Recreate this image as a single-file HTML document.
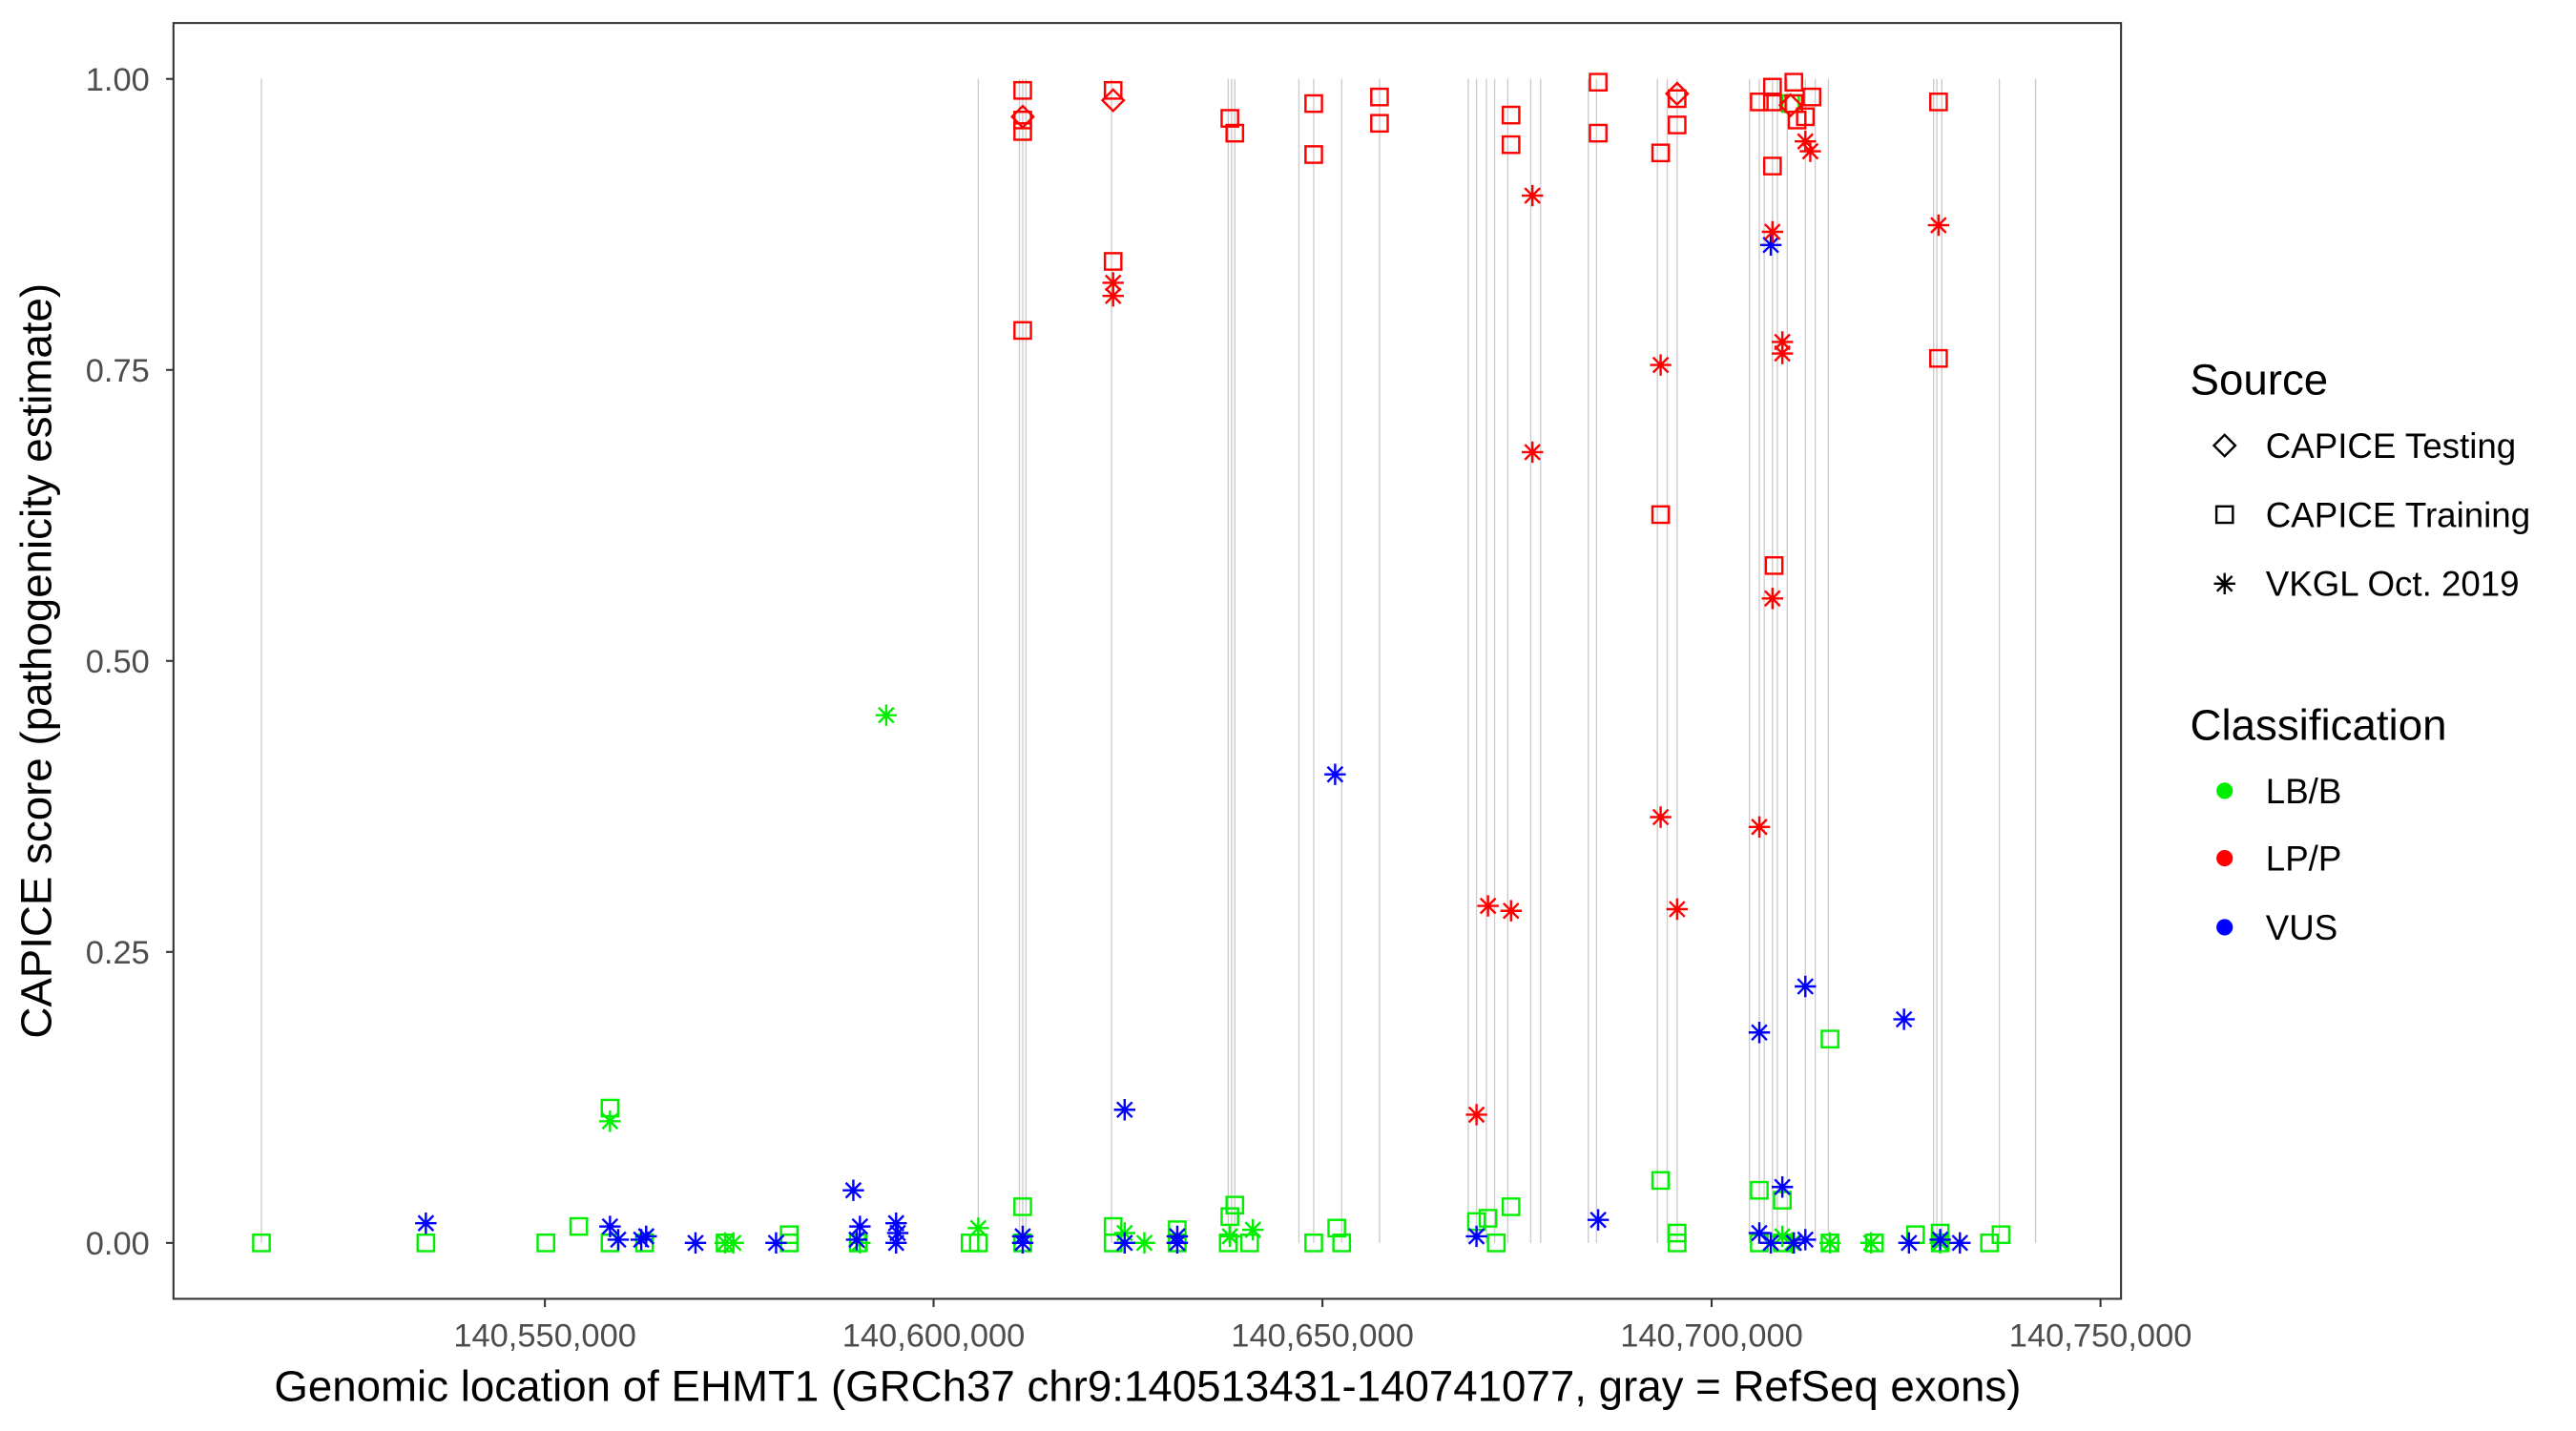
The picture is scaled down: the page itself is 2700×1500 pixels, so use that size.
<!DOCTYPE html>
<html><head><meta charset="utf-8"><style>
html,body{margin:0;padding:0;background:#fff}
svg{display:block}
text{font-family:"Liberation Sans",Arial,sans-serif}
</style></head><body>
<svg id="s" width="2700" height="1500" viewBox="0 0 1566.7 870.4" preserveAspectRatio="none" xmlns="http://www.w3.org/2000/svg">
<rect x="0" y="0" width="1600" height="900" fill="#fff"/>
<g id="ex" stroke="#cccccc" stroke-width="0.8"></g>
<g id="pts" fill="none" stroke-width="1.4"></g>
<rect x="105.5" y="14" width="1184.5" height="776" fill="none" stroke="#333" stroke-width="1.2"/>
<g stroke="#333" stroke-width="1.2">
<line x1="101" y1="48" x2="105.5" y2="48"/><line x1="101" y1="225" x2="105.5" y2="225"/><line x1="101" y1="402" x2="105.5" y2="402"/><line x1="101" y1="579" x2="105.5" y2="579"/><line x1="101" y1="756" x2="105.5" y2="756"/>
<line x1="331.4" y1="790" x2="331.4" y2="795"/><line x1="567.8" y1="790" x2="567.8" y2="795"/><line x1="804.3" y1="790" x2="804.3" y2="795"/><line x1="1041" y1="790" x2="1041" y2="795"/><line x1="1277.5" y1="790" x2="1277.5" y2="795"/>
</g>
<g font-size="20" fill="#4d4d4d" text-anchor="end">
<text x="91" y="55">1.00</text><text x="91" y="232">0.75</text><text x="91" y="409">0.50</text><text x="91" y="586">0.25</text><text x="91" y="763">0.00</text>
</g>
<g font-size="20" fill="#4d4d4d" text-anchor="middle">
<text x="331.4" y="819">140,550,000</text><text x="567.8" y="819">140,600,000</text><text x="804.3" y="819">140,650,000</text><text x="1041" y="819">140,700,000</text><text x="1277.5" y="819">140,750,000</text>
</g>
<text x="698" y="852" font-size="26.5" text-anchor="middle" fill="#000">Genomic location of EHMT1 (GRCh37 chr9:140513431-140741077, gray = RefSeq exons)</text>
<text transform="translate(31,402) rotate(-90)" font-size="26.5" text-anchor="middle" fill="#000">CAPICE score (pathogenicity estimate)</text>
<text x="1332" y="240" font-size="26.5" fill="#000">Source</text>
<text x="1378" y="278.5" font-size="21.3" fill="#000">CAPICE Testing</text>
<text x="1378" y="320.5" font-size="21.3" fill="#000">CAPICE Training</text>
<text x="1378" y="362.5" font-size="21.3" fill="#000">VKGL Oct. 2019</text>
<text x="1332" y="450" font-size="26.5" fill="#000">Classification</text>
<text x="1378" y="488.5" font-size="21.3" fill="#000">LB/B</text>
<text x="1378" y="529.5" font-size="21.3" fill="#000">LP/P</text>
<text x="1378" y="571.5" font-size="21.3" fill="#000">VUS</text>
<g id="leg" fill="none" stroke-width="1.4"></g>
</svg>
<script>
var ns="http://www.w3.org/2000/svg";
function el(p,t,a){var e=document.createElementNS(ns,t);for(var k in a)e.setAttribute(k,a[k]);p.appendChild(e);return e;}
var ex=document.getElementById('ex');
[159,595,620,622,624,676,747,749,751,790,799,816,839,893,898,904,909,917,931,937,966,971,1008,1014,1020,1064,1070,1073,1078,1081,1087,1098,1104,1112,1176,1178,1181,1216,1238].forEach(function(x){el(ex,'line',{x1:x,y1:48,x2:x,y2:756});});
var P=document.getElementById('pts');
function sq(g,x,y,c){el(g,'rect',{x:x-5,y:y-5,width:10,height:10,stroke:c});}
function di(g,x,y,c){el(g,'path',{d:'M'+x+' '+(y-6.5)+'L'+(x+6.5)+' '+y+'L'+x+' '+(y+6.5)+'L'+(x-6.5)+' '+y+'Z',stroke:c});}
function as(g,x,y,c){var r=6.5,d=4.6;el(g,'path',{d:'M'+x+' '+(y-r)+'V'+(y+r)+'M'+(x-d)+' '+(y-d)+'L'+(x+d)+' '+(y+d)+'M'+(x-d)+' '+(y+d)+'L'+(x+d)+' '+(y-d)+'M'+(x-r)+' '+y+'H'+(x+r),stroke:c});}
var R='#ff0000',G='#00ee00',B='#0000ff';
[[159,756],[259,756],[332,756],[352,746],[371,674],[371,756],[392,756],[441,756],[480,751],[480,756],[522,756],[590,756],[595,756],[622,734],[622,756],[677,746],[677,756],[716,748],[716,756],[747,756],[748,740],[751,733],[760,756],[799,756],[813,747],[816,756],[898,743],[905,741],[910,756],[919,734],[1010,718],[1020,750],[1020,756],[1070,724],[1070,756],[1084,730],[1084,756],[1113,632],[1113,756],[1140,756],[1165,751],[1180,750],[1180,756],[1210,756],[1217,751],[1089,63]].forEach(function(p){sq(P,p[0],p[1],G);});
[[539,435],[371,682],[393,752],[441,756],[446,756],[523,756],[595,747],[684,750],[696,756],[748,752],[762,748],[1084,752],[1090,756],[1113,756],[1138,756],[1180,756]].forEach(function(p){as(P,p[0],p[1],G);});
[[259,744],[371,746],[376,754],[390,754],[393,752],[423,756],[472,756],[519,724],[523,746],[521,754],[545,744],[546,750],[545,756],[622,752],[622,756],[684,675],[684,756],[716,752],[716,756],[812,471],[898,752],[972,742],[1070,628],[1070,750],[1077,149],[1077,756],[1084,722],[1091,756],[1098,600],[1098,754],[1158,620],[1161,756],[1180,754],[1192,756]].forEach(function(p){as(P,p[0],p[1],B);});
[[622,55],[622,73],[622,80],[622,201],[677,55],[677,159],[748,72],[751,81],[799,63],[799,94],[839,59],[839,75],[919,70],[919,88],[972,50],[972,81],[1010,93],[1010,313],[1020,60],[1020,76],[1070,62],[1078,53],[1078,62],[1078,101],[1079,344],[1091,50],[1091,63],[1093,73],[1098,71],[1102,59],[1179,62],[1179,218]].forEach(function(p){sq(P,p[0],p[1],R);});
[[622,71],[677,61],[1020,57],[1089,64]].forEach(function(p){di(P,p[0],p[1],R);});
[[677,172],[677,180],[932,119],[932,275],[1010,222],[1010,497],[1070,503],[898,678],[905,551],[919,554],[1020,553],[1078,141],[1078,364],[1084,208],[1084,215],[1098,86],[1101,92],[1179,137]].forEach(function(p){as(P,p[0],p[1],R);});
var L=document.getElementById('leg');
di(L,1353,271,'#000');sq(L,1353,313,'#000');as(L,1353,355,'#000');
el(L,'circle',{cx:1353,cy:481,r:5,fill:G,stroke:'none'});
el(L,'circle',{cx:1353,cy:522,r:5,fill:R,stroke:'none'});
el(L,'circle',{cx:1353,cy:564,r:5,fill:B,stroke:'none'});
</script>
</body></html>
